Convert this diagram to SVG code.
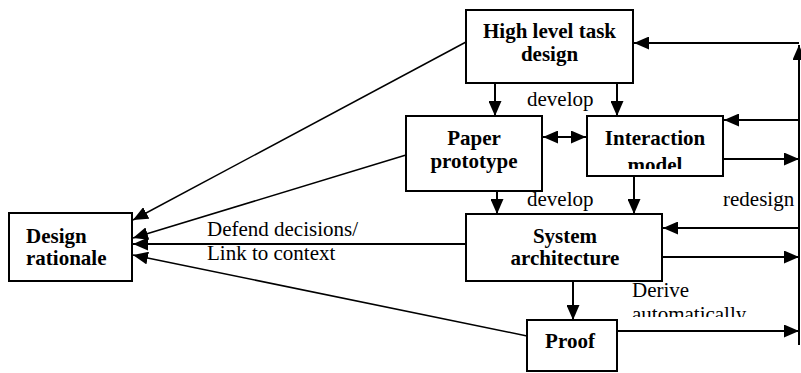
<svg xmlns="http://www.w3.org/2000/svg" width="801" height="373" viewBox="0 0 801 373">
<style>
.box{fill:#fff;stroke:#000;stroke-width:2}
.n{font-family:"Liberation Serif","Times New Roman",serif;font-weight:bold;font-size:21px;fill:#000}
.l{font-family:"Liberation Serif","Times New Roman",serif;font-size:21px;fill:#000}
.c{fill:none;stroke:#000;stroke-width:2}
.d{fill:none;stroke:#000;stroke-width:1.5}
</style>
<defs>
<marker id="ah" markerUnits="userSpaceOnUse" markerWidth="15" markerHeight="13" refX="15" refY="6.5" orient="auto-start-reverse">
<path d="M0,0 L15,6.5 L0,13 z" fill="#000"/>
</marker>
<clipPath id="clipModel"><rect x="587" y="150" width="136" height="19"/></clipPath>
<clipPath id="clipDerive"><rect x="625" y="282" width="130" height="35"/></clipPath>
</defs>
<g id="connectors">
<path class="c" d="M799,345 L799,45" marker-end="url(#ah)"/>
<path class="c" d="M799,43 L634,43" marker-end="url(#ah)"/>
<path class="c" d="M799,120 L724,120" marker-end="url(#ah)"/>
<path class="c" d="M723,159 L799,159" marker-end="url(#ah)"/>
<path class="c" d="M799,228 L663,228" marker-end="url(#ah)"/>
<path class="c" d="M662,257 L799,257" marker-end="url(#ah)"/>
<path class="c" d="M617,331 L799,331" marker-end="url(#ah)"/>
<path class="c" d="M495,83 L495,116" marker-end="url(#ah)"/>
<path class="c" d="M617,83 L617,116" marker-end="url(#ah)"/>
<path class="c" d="M543,137 L586,137" marker-start="url(#ah)" marker-end="url(#ah)"/>
<path class="c" d="M497,191 L497,214" marker-end="url(#ah)"/>
<path class="c" d="M634,176 L634,214" marker-end="url(#ah)"/>
<path class="c" d="M573,281 L573,320" marker-end="url(#ah)"/>
<path class="d" d="M466,42 L133,220" marker-end="url(#ah)"/>
<path class="d" d="M406,155 L133,238" marker-end="url(#ah)"/>
<path class="c" d="M466,244 L133,244" marker-end="url(#ah)"/>
<path class="d" d="M527,336 L133,255" marker-end="url(#ah)"/>
</g>
<g id="labels">
<text class="l" x="527" y="106">develop</text>
<text class="l" x="527" y="206">develop</text>
<text class="l" x="723" y="206">redesign</text>
<text class="l" x="207" y="236">Defend decisions/</text>
<text class="l" x="207" y="260">Link to context</text>
<g clip-path="url(#clipDerive)">
<text class="l" x="632" y="297">Derive</text>
<text class="l" x="632" y="321">automatically</text>
</g>
</g>
<g id="high-level-task-design">
<rect class="box" x="466" y="10" width="167" height="73"/>
<text class="n" x="549.5" y="38" text-anchor="middle">High level task</text>
<text class="n" x="549.5" y="61" text-anchor="middle">design</text>
</g>
<g id="paper-prototype">
<rect class="box" x="406" y="116" width="136" height="75"/>
<text class="n" x="474" y="145" text-anchor="middle">Paper</text>
<text class="n" x="474" y="168" text-anchor="middle">prototype</text>
</g>
<g id="interaction-model">
<rect class="box" x="587" y="116" width="136" height="60"/>
<text class="n" x="655" y="145" text-anchor="middle">Interaction</text>
<text class="n" x="655" y="172" text-anchor="middle" clip-path="url(#clipModel)">model</text>
</g>
<g id="system-architecture">
<rect class="box" x="466" y="214" width="196" height="67"/>
<text class="n" x="565" y="243" text-anchor="middle">System</text>
<text class="n" x="565" y="265" text-anchor="middle">architecture</text>
</g>
<g id="proof">
<rect class="box" x="527" y="320" width="90" height="51"/>
<text class="n" x="570" y="348" text-anchor="middle">Proof</text>
</g>
<g id="design-rationale">
<rect class="box" x="9" y="213" width="123" height="68"/>
<text class="n" x="26" y="243">Design</text>
<text class="n" x="26" y="265">rationale</text>
</g>
</svg>
